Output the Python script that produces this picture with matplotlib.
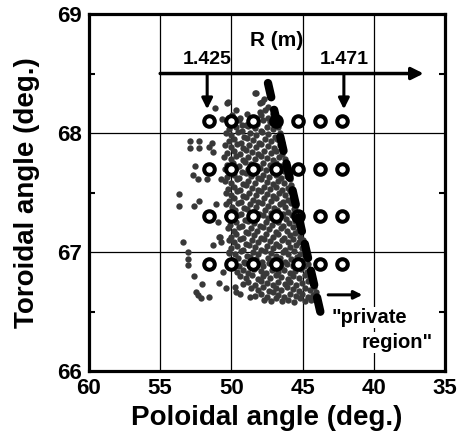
"""Poloidal vs toroidal angle map with probe grid and private region boundary"""
import matplotlib
matplotlib.use("Agg")
import matplotlib.pyplot as plt
import numpy as np

plt.rcParams['font.family'] = ['Liberation Sans', 'DejaVu Sans']
plt.rcParams['font.weight'] = 'bold'

# axis ranges / ticks
x_ticks = [60, 55, 50, 45, 40, 35]
y_ticks = [66, 67, 68, 69]
y_minor = [66.5, 67.5, 68.5]

# measurement grid (open circles)
probe_x = [51.6, 50.0, 48.5, 46.9, 45.3, 43.8, 42.2]
probe_y = [68.1, 67.7, 67.3, 66.9]

# R axis annotation
r_arrow_y = 68.5
r_arrow_x = [55.0, 36.5]
r_marks_x = [51.7, 42.1]
r_marks_tip = 68.2
r_labels = ['1.425', '1.471']

# private region boundary (dashed)
sep_x = [47.43, 43.70]
sep_y = [68.42, 66.47]

# scattered points (poloidal, toroidal)
sparse_xy = [
    (52.91, 67.93), (52.28, 67.93), (52.91, 67.87), (52.28, 67.87), (51.36, 67.92),
    (51.57, 67.88), (51.29, 67.84), (52.56, 67.72), (52.70, 67.65), (52.35, 67.61),
    (51.71, 67.61), (50.73, 67.61), (53.68, 67.49), (53.68, 67.39), (52.63, 67.39),
    (52.28, 67.43), (51.08, 67.40), (50.94, 67.25), (50.87, 67.13), (53.40, 67.08),
    (53.05, 67.00), (53.05, 66.94), (53.05, 66.89), (51.29, 67.06), (50.80, 67.13),
    (50.73, 67.08), (50.59, 66.83), (50.87, 66.74), (50.38, 66.70), (52.06, 66.73),
    (52.35, 66.64), (52.13, 66.61), (51.57, 66.62), (52.49, 66.66), (52.63, 66.80),
    (49.75, 66.71), (49.68, 66.66), (49.40, 66.65), (48.69, 66.62), (50.17, 66.99),
    (48.27, 68.34), (50.31, 68.25), (51.15, 68.21), (49.68, 68.19), (47.99, 68.25),
    (50.24, 68.26), (50.66, 68.12), (49.26, 68.07), (48.34, 68.34), (47.85, 68.26),
    (47.64, 68.19), (47.99, 68.18), (47.43, 68.22), (47.70, 68.29), (47.25, 68.31),
]

dense_xy = [
    (49.95, 68.15), (49.40, 68.13), (48.90, 68.16), (48.50, 68.12), (47.90, 68.15), (47.45, 68.13), (47.05, 68.16),
    (50.30, 68.10), (49.85, 68.08), (49.45, 68.11), (49.00, 68.07), (48.60, 68.10), (48.20, 68.08), (47.75, 68.11), (47.30, 68.09), (46.85, 68.10),
    (50.15, 68.03), (49.70, 68.05), (49.25, 68.02), (48.80, 68.06), (48.35, 68.04), (47.95, 68.02), (47.50, 68.05), (47.10, 68.03), (46.75, 68.05),
    (50.40, 68.00), (50.00, 67.98), (49.55, 68.01), (49.10, 67.97), (48.70, 68.00), (48.25, 67.98), (47.85, 68.01), (47.40, 67.99), (46.95, 67.97), (46.60, 68.00),
    (50.20, 67.93), (49.80, 67.95), (49.35, 67.92), (48.90, 67.96), (48.50, 67.94), (48.05, 67.92), (47.65, 67.95), (47.20, 67.93), (46.80, 67.95), (46.45, 67.92),
    (50.45, 67.90), (50.00, 67.88), (49.60, 67.91), (49.15, 67.87), (48.75, 67.90), (48.30, 67.88), (47.90, 67.91), (47.45, 67.89), (47.00, 67.87), (46.60, 67.90), (46.35, 67.86),
    (50.30, 67.83), (49.85, 67.85), (49.40, 67.82), (49.00, 67.86), (48.55, 67.84), (48.10, 67.82), (47.70, 67.85), (47.25, 67.83), (46.85, 67.85), (46.45, 67.82),
    (50.50, 67.80), (50.05, 67.78), (49.65, 67.81), (49.20, 67.77), (48.80, 67.80), (48.35, 67.78), (47.95, 67.81), (47.50, 67.79), (47.05, 67.77), (46.65, 67.80), (46.25, 67.78),
    (50.30, 67.73), (49.90, 67.75), (49.45, 67.72), (49.05, 67.76), (48.60, 67.74), (48.20, 67.72), (47.75, 67.75), (47.30, 67.73), (46.90, 67.75), (46.50, 67.72), (46.15, 67.74),
    (50.45, 67.70), (50.10, 67.68), (49.65, 67.71), (49.25, 67.67), (48.85, 67.70), (48.40, 67.68), (48.00, 67.71), (47.55, 67.69), (47.10, 67.67), (46.70, 67.70), (46.30, 67.68), (46.05, 67.71),
    (50.30, 67.63), (49.85, 67.65), (49.45, 67.62), (49.00, 67.66), (48.60, 67.64), (48.15, 67.62), (47.75, 67.65), (47.35, 67.63), (46.90, 67.65), (46.50, 67.62), (46.10, 67.64),
    (50.45, 67.60), (50.05, 67.58), (49.60, 67.61), (49.20, 67.57), (48.80, 67.60), (48.35, 67.58), (47.95, 67.61), (47.50, 67.59), (47.10, 67.57), (46.70, 67.60), (46.30, 67.58), (45.90, 67.61),
    (50.25, 67.53), (49.85, 67.55), (49.40, 67.52), (49.00, 67.56), (48.55, 67.54), (48.15, 67.52), (47.70, 67.55), (47.30, 67.53), (46.85, 67.55), (46.45, 67.52), (46.05, 67.54), (45.80, 67.56),
    (50.40, 67.50), (50.00, 67.48), (49.60, 67.51), (49.15, 67.47), (48.75, 67.50), (48.30, 67.48), (47.90, 67.51), (47.50, 67.49), (47.05, 67.47), (46.65, 67.50), (46.25, 67.48), (45.85, 67.51),
    (50.20, 67.43), (49.80, 67.45), (49.35, 67.42), (48.95, 67.46), (48.50, 67.44), (48.10, 67.42), (47.70, 67.45), (47.25, 67.43), (46.85, 67.45), (46.40, 67.42), (46.00, 67.44), (45.65, 67.46),
    (50.35, 67.40), (49.95, 67.38), (49.55, 67.41), (49.10, 67.37), (48.70, 67.40), (48.30, 67.38), (47.85, 67.41), (47.45, 67.39), (47.00, 67.37), (46.60, 67.40), (46.20, 67.38), (45.80, 67.41), (45.55, 67.38),
    (50.15, 67.33), (49.75, 67.35), (49.30, 67.32), (48.90, 67.36), (48.45, 67.34), (48.05, 67.32), (47.65, 67.35), (47.20, 67.33), (46.80, 67.35), (46.40, 67.32), (46.00, 67.34), (45.60, 67.36),
    (50.30, 67.30), (49.90, 67.28), (49.50, 67.31), (49.05, 67.27), (48.65, 67.30), (48.25, 67.28), (47.80, 67.31), (47.40, 67.29), (46.95, 67.27), (46.55, 67.30), (46.15, 67.28), (45.75, 67.31), (45.40, 67.28),
    (50.10, 67.23), (49.70, 67.25), (49.25, 67.22), (48.85, 67.26), (48.40, 67.24), (48.00, 67.22), (47.60, 67.25), (47.15, 67.23), (46.75, 67.25), (46.35, 67.22), (45.95, 67.24), (45.55, 67.26), (45.30, 67.23),
    (50.25, 67.20), (49.85, 67.18), (49.45, 67.21), (49.00, 67.17), (48.60, 67.20), (48.20, 67.18), (47.75, 67.21), (47.35, 67.19), (46.90, 67.17), (46.50, 67.20), (46.10, 67.18), (45.70, 67.21), (45.30, 67.18),
    (50.05, 67.13), (49.65, 67.15), (49.20, 67.12), (48.80, 67.16), (48.40, 67.14), (47.95, 67.12), (47.55, 67.15), (47.10, 67.13), (46.70, 67.15), (46.30, 67.12), (45.90, 67.14), (45.50, 67.16), (45.15, 67.13),
    (50.20, 67.10), (49.80, 67.08), (49.40, 67.11), (48.95, 67.07), (48.55, 67.10), (48.15, 67.08), (47.70, 67.11), (47.30, 67.09), (46.90, 67.07), (46.45, 67.10), (46.05, 67.08), (45.65, 67.11), (45.25, 67.08), (45.00, 67.10),
    (50.00, 67.03), (49.60, 67.05), (49.15, 67.02), (48.75, 67.06), (48.35, 67.04), (47.90, 67.02), (47.50, 67.05), (47.10, 67.03), (46.65, 67.05), (46.25, 67.02), (45.85, 67.04), (45.45, 67.06), (45.05, 67.03),
    (50.15, 67.00), (49.75, 66.98), (49.35, 67.01), (48.90, 66.97), (48.50, 67.00), (48.10, 66.98), (47.65, 67.01), (47.25, 66.99), (46.85, 66.97), (46.40, 67.00), (46.00, 66.98), (45.60, 67.01), (45.20, 66.98), (44.85, 67.00),
    (49.95, 66.93), (49.55, 66.95), (49.10, 66.92), (48.70, 66.96), (48.30, 66.94), (47.85, 66.92), (47.45, 66.95), (47.05, 66.93), (46.60, 66.95), (46.20, 66.92), (45.80, 66.94), (45.40, 66.96), (45.00, 66.93), (44.70, 66.95),
    (49.85, 66.90), (49.45, 66.88), (49.05, 66.91), (48.60, 66.87), (48.20, 66.90), (47.80, 66.88), (47.35, 66.91), (46.95, 66.89), (46.55, 66.87), (46.10, 66.90), (45.70, 66.88), (45.30, 66.91), (44.90, 66.88), (44.60, 66.90),
    (49.60, 66.83), (49.20, 66.85), (48.80, 66.82), (48.40, 66.86), (47.95, 66.84), (47.55, 66.82), (47.15, 66.85), (46.70, 66.83), (46.30, 66.85), (45.90, 66.82), (45.50, 66.84), (45.10, 66.86), (44.70, 66.83), (44.45, 66.85),
    (49.40, 66.80), (49.00, 66.78), (48.55, 66.81), (48.15, 66.77), (47.75, 66.80), (47.30, 66.78), (46.90, 66.81), (46.50, 66.79), (46.05, 66.77), (45.65, 66.80), (45.25, 66.78), (44.85, 66.81), (44.50, 66.78),
    (49.20, 66.73), (48.80, 66.75), (48.35, 66.72), (47.95, 66.76), (47.50, 66.74), (47.10, 66.72), (46.70, 66.75), (46.25, 66.73), (45.85, 66.75), (45.45, 66.72), (45.05, 66.74), (44.65, 66.76), (44.30, 66.73),
    (48.60, 66.70), (48.15, 66.68), (47.75, 66.71), (47.35, 66.67), (46.90, 66.70), (46.50, 66.68), (46.10, 66.71), (45.65, 66.69), (45.25, 66.67), (44.85, 66.70), (44.45, 66.68), (44.20, 66.71),
    (48.35, 66.63), (47.90, 66.65), (47.50, 66.62), (47.10, 66.66), (46.70, 66.64), (46.30, 66.62), (45.85, 66.65), (45.45, 66.63), (45.05, 66.65), (44.65, 66.62), (44.30, 66.64), (44.05, 66.66),
    (47.70, 66.60), (47.25, 66.59), (46.85, 66.61), (46.45, 66.59), (46.00, 66.60), (45.60, 66.58), (45.20, 66.61), (44.80, 66.59), (44.40, 66.60),
]


def make_plot():
    fig = plt.figure(figsize=(4.57, 4.44), dpi=100)
    ax = fig.add_axes([0.1947, 0.1644, 0.779, 0.804])

    pts = np.array(sparse_xy + dense_xy)
    ax.scatter(pts[:, 0], pts[:, 1], s=21, color='#383838', linewidths=0, zorder=2)

    # probe grid
    gx, gy = np.meshgrid(probe_x, probe_y)
    ax.plot(gx.ravel(), gy.ravel(), 'o', ms=7.6, mew=2.9, mfc='white', mec='black',
            linestyle='none', zorder=3)

    # dashed separatrix
    ax.plot(sep_x, sep_y, color='black', lw=6, dashes=(1.75, 1.55),
            dash_capstyle='round', zorder=4)

    # R arrow and markers
    ax.annotate('', xy=(r_arrow_x[1], r_arrow_y), xytext=(r_arrow_x[0], r_arrow_y),
                arrowprops=dict(arrowstyle='-|>', lw=2.5, color='black', mutation_scale=18,
                                shrinkA=0, shrinkB=0), zorder=5)
    for xm, lab in zip(r_marks_x, r_labels):
        ax.annotate('', xy=(xm, r_marks_tip), xytext=(xm, r_arrow_y),
                    arrowprops=dict(arrowstyle='-|>', lw=2.2, color='black', mutation_scale=16,
                                    shrinkA=0, shrinkB=0), zorder=5)
        ax.text(xm, 68.545, lab, ha='center', va='bottom', fontsize=14, fontweight='bold')
    ax.text(46.8, 68.78, 'R (m)', ha='center', va='center', fontsize=15, fontweight='bold')

    # private region label
    ax.annotate('', xy=(40.8, 66.64), xytext=(43.2, 66.64),
                arrowprops=dict(arrowstyle='-|>', lw=2.2, color='black', mutation_scale=12,
                                shrinkA=0, shrinkB=0), zorder=5)
    bb = dict(facecolor='white', edgecolor='none', pad=1)
    ax.text(42.95, 66.45, '"private', ha='left', va='center', fontsize=14.5,
            fontweight='bold', bbox=bb, zorder=6)
    ax.text(40.85, 66.24, 'region"', ha='left', va='center', fontsize=14.5,
            fontweight='bold', bbox=bb, zorder=6)

    ax.set_xlim(60, 35)
    ax.set_ylim(66, 69)
    ax.set_xticks(x_ticks)
    ax.set_yticks(y_ticks)
    ax.set_yticks(y_minor, minor=True)
    ax.grid(True, which='major', color='black', lw=0.9)
    ax.set_axisbelow(True)
    ax.tick_params(which='both', direction='in', left=True, right=True, top=False,
                   labelsize=16, width=1.5)
    ax.tick_params(which='major', length=0, pad=5)
    ax.tick_params(which='minor', length=4)
    for s in ax.spines.values():
        s.set_linewidth(2.3)

    ax.set_xlabel('Poloidal angle (deg.)', fontsize=20, fontweight='bold', labelpad=4)
    ax.set_ylabel('Toroidal angle (deg.)', fontsize=20, fontweight='bold', labelpad=12)

    fig.savefig('out.png', dpi=100)
    plt.close(fig)


if __name__ == "__main__":
    make_plot()
